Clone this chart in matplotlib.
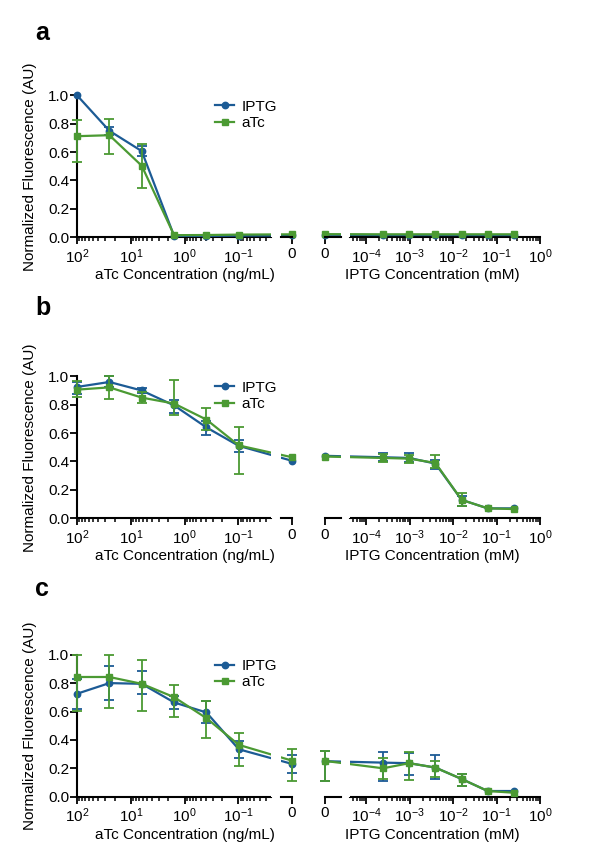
import numpy as np
import matplotlib
matplotlib.use("Agg")
import matplotlib.pyplot as plt
from matplotlib.ticker import FixedLocator, NullFormatter

plt.rcParams['font.family'] = ['Liberation Sans', 'DejaVu Sans']
plt.rcParams['mathtext.fontset'] = 'custom'
plt.rcParams['mathtext.rm'] = 'Liberation Sans'
plt.rcParams['mathtext.it'] = 'Liberation Sans:italic'
plt.rcParams['mathtext.bf'] = 'Liberation Sans:bold'

# ---------------- data ----------------
atc_conc = [100, 25, 6.25, 1.5625, 0.390625, 0.09765625, 0]          # ng/mL
iptg_conc = [0, 2.44e-4, 9.77e-4, 3.906e-3, 0.015625, 0.0625, 0.25]  # mM

series_names = ['IPTG', 'aTc']
atc_ticks = [100, 10, 1, 0.1, 0]
atc_ticklabels = [r'$\mathregular{10^{2}}$', r'$\mathregular{10^{1}}$', r'$\mathregular{10^{0}}$',
                  r'$\mathregular{10^{-1}}$', '0']
iptg_ticks = [0, 1e-4, 1e-3, 1e-2, 1e-1, 1]
iptg_ticklabels = ['0', r'$\mathregular{10^{-4}}$', r'$\mathregular{10^{-3}}$', r'$\mathregular{10^{-2}}$',
                   r'$\mathregular{10^{-1}}$', r'$\mathregular{10^{0}}$']
y_ticks = [0.0, 0.2, 0.4, 0.6, 0.8, 1.0]
panel_letters = ['a', 'b', 'c']

# Panel a  (mean, error-bar low, error-bar high; nan = no visible bar)
a_atc_iptg_mean = [1.0, 0.75, 0.607, 0.01, 0.01, 0.012, 0.013]
a_atc_iptg_low  = [np.nan, 0.72, 0.57, np.nan, np.nan, np.nan, np.nan]
a_atc_iptg_high = [np.nan, 0.78, 0.644, np.nan, np.nan, np.nan, np.nan]
a_atc_atc_mean  = [0.712, 0.719, 0.504, 0.015, 0.016, 0.019, 0.021]
a_atc_atc_low   = [0.532, 0.585, 0.344, np.nan, np.nan, np.nan, np.nan]
a_atc_atc_high  = [0.829, 0.836, 0.66, np.nan, np.nan, np.nan, np.nan]
a_iptg_iptg_mean = [0.018, 0.016, 0.016, 0.016, 0.016, 0.016, 0.016]
a_iptg_iptg_low  = [np.nan] * 7
a_iptg_iptg_high = [np.nan] * 7
a_iptg_atc_mean  = [0.022, 0.021, 0.021, 0.021, 0.021, 0.021, 0.021]
a_iptg_atc_low   = [np.nan] * 7
a_iptg_atc_high  = [np.nan] * 7

# Panel b
b_atc_iptg_mean = [0.925, 0.96, 0.90, 0.795, 0.64, 0.51, 0.405]
b_atc_iptg_low  = [0.878, 0.925, 0.885, 0.745, 0.59, 0.465, np.nan]
b_atc_iptg_high = [0.96, 1.0, 0.92, 0.836, 0.685, 0.55, np.nan]
b_atc_atc_mean  = [0.906, 0.922, 0.85, 0.808, 0.695, 0.513, 0.43]
b_atc_atc_low   = [0.855, 0.838, 0.81, 0.726, 0.62, 0.31, np.nan]
b_atc_atc_high  = [0.967, 1.0, 0.887, 0.972, 0.78, 0.645, np.nan]
b_iptg_iptg_mean = [0.44, 0.43, 0.425, 0.385, 0.13, 0.07, 0.07]
b_iptg_iptg_low  = [np.nan, 0.40, 0.395, 0.345, 0.09, np.nan, np.nan]
b_iptg_iptg_high = [np.nan, 0.46, 0.46, 0.41, 0.16, np.nan, np.nan]
b_iptg_atc_mean  = [0.435, 0.425, 0.42, 0.39, 0.13, 0.07, 0.065]
b_iptg_atc_low   = [np.nan, 0.395, 0.39, 0.355, 0.085, np.nan, np.nan]
b_iptg_atc_high  = [np.nan, 0.455, 0.445, 0.445, 0.18, np.nan, np.nan]

# Panel c
c_atc_iptg_mean = [0.725, 0.80, 0.795, 0.664, 0.593, 0.334, 0.231]
c_atc_iptg_low  = [0.619, 0.682, 0.725, 0.62, 0.518, 0.271, 0.165]
c_atc_iptg_high = [0.83, 0.922, 0.882, 0.71, 0.675, 0.393, 0.294]
c_atc_atc_mean  = [0.843, 0.843, 0.795, 0.701, 0.553, 0.365, 0.254]
c_atc_atc_low   = [0.607, 0.628, 0.607, 0.558, 0.416, 0.217, 0.111]
c_atc_atc_high  = [1.0, 1.0, 0.965, 0.788, 0.675, 0.452, 0.334]
c_iptg_iptg_mean = [0.25, 0.24, 0.236, 0.205, 0.125, 0.04, 0.04]
c_iptg_iptg_low  = [0.11, 0.111, 0.153, 0.123, 0.078, np.nan, np.nan]
c_iptg_iptg_high = [0.32, 0.313, 0.306, 0.294, 0.16, np.nan, np.nan]
c_iptg_atc_mean  = [0.252, 0.20, 0.236, 0.205, 0.125, 0.04, 0.028]
c_iptg_atc_low   = [0.111, 0.125, 0.118, 0.137, 0.078, np.nan, np.nan]
c_iptg_atc_high  = [0.325, 0.275, 0.318, 0.254, 0.16, np.nan, np.nan]

panels = [
    dict(atc=[(a_atc_iptg_mean, a_atc_iptg_low, a_atc_iptg_high), (a_atc_atc_mean, a_atc_atc_low, a_atc_atc_high)],
         iptg=[(a_iptg_iptg_mean, a_iptg_iptg_low, a_iptg_iptg_high), (a_iptg_atc_mean, a_iptg_atc_low, a_iptg_atc_high)]),
    dict(atc=[(b_atc_iptg_mean, b_atc_iptg_low, b_atc_iptg_high), (b_atc_atc_mean, b_atc_atc_low, b_atc_atc_high)],
         iptg=[(b_iptg_iptg_mean, b_iptg_iptg_low, b_iptg_iptg_high), (b_iptg_atc_mean, b_iptg_atc_low, b_iptg_atc_high)]),
    dict(atc=[(c_atc_iptg_mean, c_atc_iptg_low, c_atc_iptg_high), (c_atc_atc_mean, c_atc_atc_low, c_atc_atc_high)],
         iptg=[(c_iptg_iptg_mean, c_iptg_iptg_low, c_iptg_iptg_high), (c_iptg_atc_mean, c_iptg_atc_low, c_iptg_atc_high)]),
]

# ---------------- styles ----------------
COLORS = ['#1c5b95', '#4b9a33']
MARKERS = ['o', 's']
MSIZE = [4.6, 4.8]
LW = 1.6
SPINE_LW = 1.5
FS = 11

ATC_ZERO = 2.0     # position of "0" on the reversed aTc log axis (decades)
IPTG_ZERO = -4.95  # position of "0" on the IPTG log axis


def atc_fwd(c):
    c = np.asarray(c, dtype=float)
    safe = np.where(c > 0, c, 1.0)
    return np.where(c > 0, -np.log10(safe), ATC_ZERO)


def atc_inv(p):
    return 10.0 ** (-np.asarray(p, dtype=float))


def iptg_fwd(c):
    c = np.asarray(c, dtype=float)
    safe = np.where(c > 0, c, 1.0)
    return np.where(c > 0, np.log10(safe), IPTG_ZERO)


def iptg_inv(p):
    return 10.0 ** np.asarray(p, dtype=float)


def draw_series(ax, x, series):
    x = np.asarray(x, float)
    for i, (mean, low, high) in enumerate(series):
        mean = np.asarray(mean, float)
        low = np.asarray(low, float)
        high = np.asarray(high, float)
        m = ~np.isnan(low)
        if m.any():
            ax.errorbar(x[m], mean[m], yerr=[mean[m] - low[m], high[m] - mean[m]], fmt='none',
                        ecolor=COLORS[i], elinewidth=1.3, capsize=3.6, capthick=1.3,
                        zorder=3 + i, clip_on=False)
        ax.plot(x, mean, color=COLORS[i], lw=LW, marker=MARKERS[i], ms=MSIZE[i],
                mec=COLORS[i], mfc=COLORS[i], label=series_names[i], zorder=3 + i,
                clip_on=False)


def style_common(ax):
    ax.set_ylim(0, 1.0)
    for s in ['top', 'right']:
        ax.spines[s].set_visible(False)
    ax.spines['bottom'].set_linewidth(SPINE_LW)
    ax.spines['left'].set_linewidth(SPINE_LW)
    ax.tick_params(axis='both', which='major', direction='out', length=5, width=1.3,
                   labelsize=FS, color='black')
    ax.tick_params(axis='x', which='minor', direction='out', length=3, width=1.1)
    ax.tick_params(axis='x', which='major', pad=2)
    ax.tick_params(axis='y', which='major', pad=0.5)


W, H = 600, 863
fig = plt.figure(figsize=(W / 100, H / 100), dpi=100)

ax_bottoms_px = [237.3, 518.3, 796.7]   # pixel row of y=0
ax_h_px = 142.0
letter_y_px = [33, 308, 589]

for k, pdata in enumerate(panels):
    bottom = (H - ax_bottoms_px[k]) / H
    height = ax_h_px / H

    # ----- aTc axis (left, concentration decreasing to the right) -----
    ax1 = fig.add_axes([77 / W, bottom, 215 / W, height])
    ax1.set_xscale('function', functions=(atc_fwd, atc_inv))
    ax1.set_xlim(10 ** (-2.06), 100)
    style_common(ax1)
    draw_series(ax1, atc_conc, pdata['atc'])
    ax1.set_xticks(atc_ticks)
    ax1.set_xticklabels(atc_ticklabels)
    minors = [m * 10.0 ** e for e in [1, 0, -1] for m in range(2, 10)] + [m * 0.01 for m in range(3, 10)]
    ax1.xaxis.set_minor_locator(FixedLocator(minors))
    ax1.xaxis.set_minor_formatter(NullFormatter())
    ax1.set_yticks(y_ticks)
    ax1.set_yticklabels([f'{v:.1f}' for v in y_ticks])
    ax1.spines['bottom'].set_bounds(10 ** (-1.6), 100)
    ax1.plot([10 ** (-1.79), 0], [0, 0], transform=ax1.get_xaxis_transform(), color='black',
             lw=SPINE_LW, clip_on=False, solid_capstyle='projecting', zorder=6)
    ax1.axvspan(10 ** (-1.6), 10 ** (-1.79), ymin=0, ymax=1, color='white', lw=0, zorder=5)
    ax1.set_ylabel('Normalized Fluorescence (AU)', fontsize=FS, labelpad=8)
    ax1.set_xlabel('aTc Concentration (ng/mL)', fontsize=FS, labelpad=2)
    ax1.legend(loc='upper left', bbox_to_anchor=(0.64, 0.97), frameon=False, fontsize=FS,
               handlelength=1.3, handletextpad=0.45, labelspacing=0.15, borderpad=0,
               borderaxespad=0)

    # ----- IPTG axis (right) -----
    ax2 = fig.add_axes([325 / W, bottom, 215 / W, height])
    ax2.set_xscale('function', functions=(iptg_fwd, iptg_inv))
    ax2.set_xlim(1e-5, 1.0)
    style_common(ax2)
    ax2.spines['left'].set_visible(False)
    ax2.tick_params(axis='y', which='both', left=False, labelleft=False)
    draw_series(ax2, iptg_conc, pdata['iptg'])
    ax2.set_xticks(iptg_ticks)
    ax2.set_xticklabels(iptg_ticklabels)
    minors2 = [m * 1e-5 for m in range(5, 10)] + [m * 10.0 ** e for e in [-4, -3, -2, -1] for m in range(2, 10)]
    ax2.xaxis.set_minor_locator(FixedLocator(minors2))
    ax2.xaxis.set_minor_formatter(NullFormatter())
    ax2.spines['bottom'].set_bounds(10 ** (-4.37), 1.0)
    ax2.plot([0, 10 ** (-4.58)], [0, 0], transform=ax2.get_xaxis_transform(), color='black',
             lw=SPINE_LW, clip_on=False, solid_capstyle='projecting', zorder=6)
    ax2.axvspan(10 ** (-4.58), 10 ** (-4.37), ymin=0, ymax=1, color='white', lw=0, zorder=5)
    ax2.set_xlabel('IPTG Concentration (mM)', fontsize=FS, labelpad=2)

    fig.text(35 / W, 1 - letter_y_px[k] / H, panel_letters[k], fontsize=18, fontweight='bold',
             va='center', ha='left')

fig.savefig('out.png', dpi=100)
